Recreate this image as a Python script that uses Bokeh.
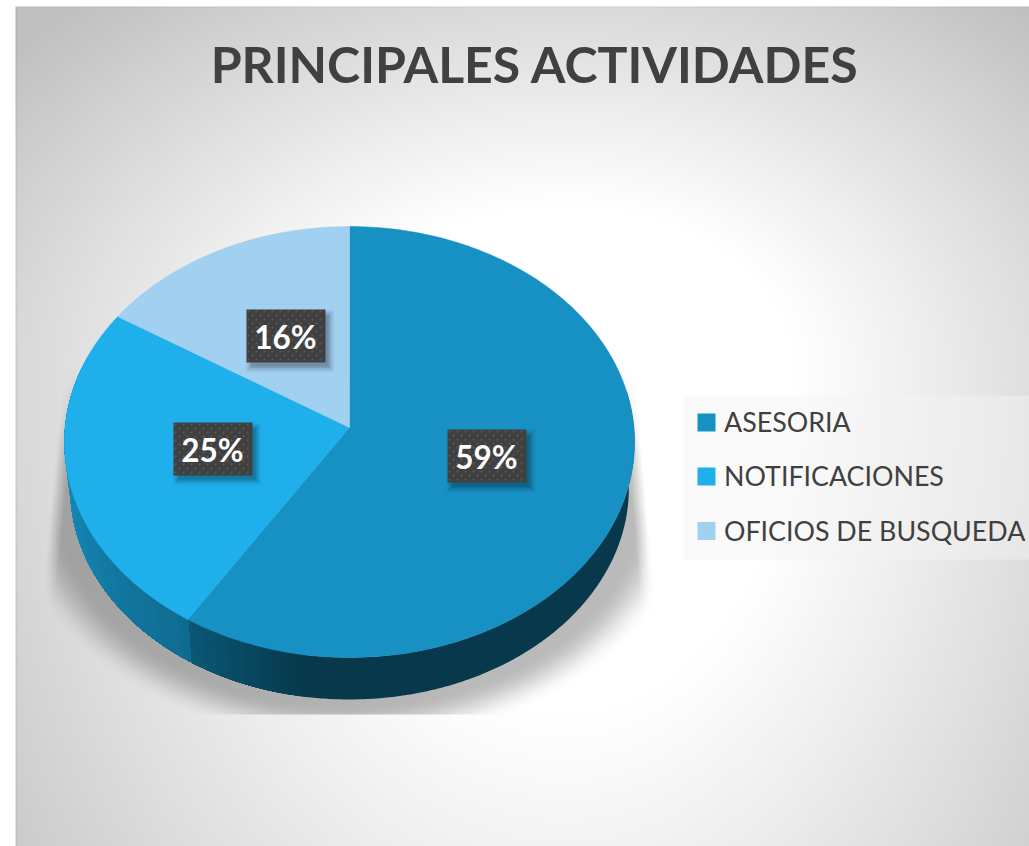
import numpy as np
from bokeh.plotting import figure
from bokeh.embed import file_html
from bokeh.resources import INLINE
from bokeh.core.properties import value

TITLE = "PRINCIPALES ACTIVIDADES"
categories = ["ASESORIA", "NOTIFICACIONES", "OFICIOS DE BUSQUEDA"]
shares = [59, 25, 16]
colors = ["#1790c3", "#1fb0ec", "#a2d0f1"]

W, H = 1029, 846
def Y(py):
    return H - np.asarray(py, dtype=float)

# ---------- projection of the pie disc (angle clockwise from 12 o'clock, in degrees)
CX, APEX_Y, A, B, K = 349.0, 427.0, 284.4, 214.5, 0.0673
DEPTH_APEX_Y, DEPTH_SCALE = 473.6, 0.98

def disc(theta, lower=False):
    t = np.radians(theta)
    u, v = np.sin(t), np.cos(t)
    den = 1 + K * v
    s = DEPTH_SCALE if lower else 1.0
    y0 = DEPTH_APEX_Y if lower else APEX_Y
    return CX + s * A * u / den, y0 - s * B * v / den

# ---------- background with gradient and cast shadow
xx, yy = np.meshgrid(np.arange(W) + .5, (np.arange(H)[::-1]) + .5)
gcx, gcy = 565.0, 375.0
ax = np.where(xx < gcx, 730.0, 680.0)
ay = np.where(yy < gcy, 500.0, 1000.0)
d = np.sqrt(((xx - gcx) / ax) ** 2 + ((yy - gcy) / ay) ** 2)
t = np.clip((d - 0.34) / (1 - 0.34), 0, 1)
g = 255 - (255 - 192) * t ** 1.05

# shadow: soft ellipse limited by two slanted lines and a bottom line
e = np.sqrt(((xx - 349) / 335.0) ** 2 + ((yy - 490) / 246.0) ** 2)
m = np.clip((1.03 - e) / 0.16, 0, 1)
m = m * m * (3 - 2 * m)
lx = 63 + (yy - 375) * (45 - 63) / (560 - 375)
rx = 635 + (yy - 380) * (653 - 635) / (590 - 380)
m = m * (xx > lx) * (xx < rx) * (yy < 714)
edge = np.clip(np.minimum(xx - lx, rx - xx) / 14.0, 0, 1)
top_fade = np.clip((yy - 368) / 90.0, 0, 1)
m = m * edge * top_fade
g = g * (1 - 0.27 * m)

# outside the slide: white; border of the slide
g = np.where((xx < 15) | (yy < 6), 255, g)
g = np.where(((xx >= 15) & (xx < 17) & (yy >= 6)) | ((yy >= 6) & (yy < 7) & (xx >= 15)), g * 0.95, g)

v8 = g.astype(np.uint32)
img = (255 << 24) | (v8 << 16) | (v8 << 8) | v8
img = img.astype(np.uint32)

p = figure(width=W, height=H, x_range=(0, W), y_range=(0, H), x_axis_type=None, y_axis_type=None,
           toolbar_location=None, output_backend="svg", min_border=0, outline_line_color=None,
           background_fill_color="white", border_fill_color="white")
p.grid.visible = False
p.image_rgba(image=[img], x=0, y=0, dw=W, dh=H)

# ---------- side of the pie
def mix(c1, c2, f):
    a = [int(c1[i:i + 2], 16) for i in (1, 3, 5)]
    b = [int(c2[i:i + 2], 16) for i in (1, 3, 5)]
    return "#%02x%02x%02x" % tuple(int(round(x + (y - x) * f)) for x, y in zip(a, b))

frac = np.cumsum(shares) / np.sum(shares)
seam1 = 360 * frac[0]

def side_color(th):
    if th < seam1:
        f = np.clip((seam1 - th) / 24.0, 0, 1)
        return mix("#0b5876", "#07384b", f)
    f = np.clip((th - seam1) / 65.0, 0, 1)
    return mix("#0f6b90", "#1a93c6", f)

sx, sy, sc = [], [], []
def strip(a0, a1, col):
    th = np.linspace(a0, a1, max(2, int(a1 - a0) * 2))
    tx, ty = disc(th)
    bx, by = disc(th, True)
    sx.append(list(np.r_[tx, bx[::-1]]))
    sy.append(list(Y(np.r_[ty, by[::-1]])))
    sc.append(col)

# later strips paint over the earlier ones, so each overlaps its neighbour
dark_end = seam1 - 24
strip(80, dark_end + 1, "#07384b")
for a in np.arange(dark_end, seam1, 1.0):
    strip(a, seam1, side_color(a + 0.5))
for a in np.arange(290 - 1.0, seam1 - 1e-6, -1.0):
    strip(seam1, a + 1.0, side_color(a + 0.5))
p.patches(sx, sy, fill_color=sc, line_color=None)

# ---------- top of the pie
start = 0.0
for val, col in zip(shares, colors):
    end = start + 360.0 * val / sum(shares)
    th = np.linspace(start, end, 180)
    x, y = disc(th)
    p.patch(np.r_[CX, x], Y(np.r_[APEX_Y, y]), fill_color=col, line_color=col, line_width=0.5)
    start = end

# ---------- data labels
LABEL_BOX = [(246, 309), (173, 422), (447, 429)]  # 16 %, 25 %, 59 %
LABEL_VALUES = [shares[2], shares[1], shares[0]]
BW, BH = 79, 53
for (bx, by), val in zip(LABEL_BOX, LABEL_VALUES):
    cx, cy = bx + BW / 2, by + BH / 2
    for grow, al in [(10, .03), (7, .05), (4, .07), (1, .09), (-2, .10)]:
        p.rect([cx + 4], Y([cy + 5]), width=BW + grow, height=BH + grow, fill_color="#000000",
               fill_alpha=al, line_color=None)
    p.rect([cx], Y([cy]), width=BW, height=BH, fill_color="#404040", line_color=None)
    dx, dy = [], []
    for j, py in enumerate(np.arange(by + 2, by + BH - 1, 4)):
        off = 2 if j % 2 == 0 else 6
        for px in np.arange(bx + off, bx + BW - 1, 8):
            dx.append(px)
            dy.append(py)
    p.rect(dx, Y(dy), width=2, height=2, fill_color="#575757", line_color=None)
    p.text([cx - 0.5], Y([cy + 1]), text=[f"{val}%"], text_font=value("Lato"), text_font_style="bold",
           text_font_size="31.5px", text_color="#ffffff", text_align="center", text_baseline="middle")

# ---------- legend
p.rect([683 + 173], Y([477]), width=346, height=164, fill_color="#f5f5f5", fill_alpha=0.45, line_color=None)
LEG_MID = [422, 476, 530.5]
for cat, col, mid in zip(categories, colors, LEG_MID):
    p.rect([706], Y([mid]), width=18, height=18, fill_color=col, line_color=None)
    p.text([723.5], Y([mid - 0.5]), text=[cat], text_font=value("Lato"), text_font_size="26.8px",
           text_color="#404040", text_align="left", text_baseline="middle")

# ---------- title
p.text([534.5], Y([63]), text=[TITLE], text_font=value("Lato"), text_font_style="bold",
       text_font_size="50px", text_color="#404040", text_align="center", text_baseline="middle")

open("out.html", "w").write(file_html(p, INLINE))
